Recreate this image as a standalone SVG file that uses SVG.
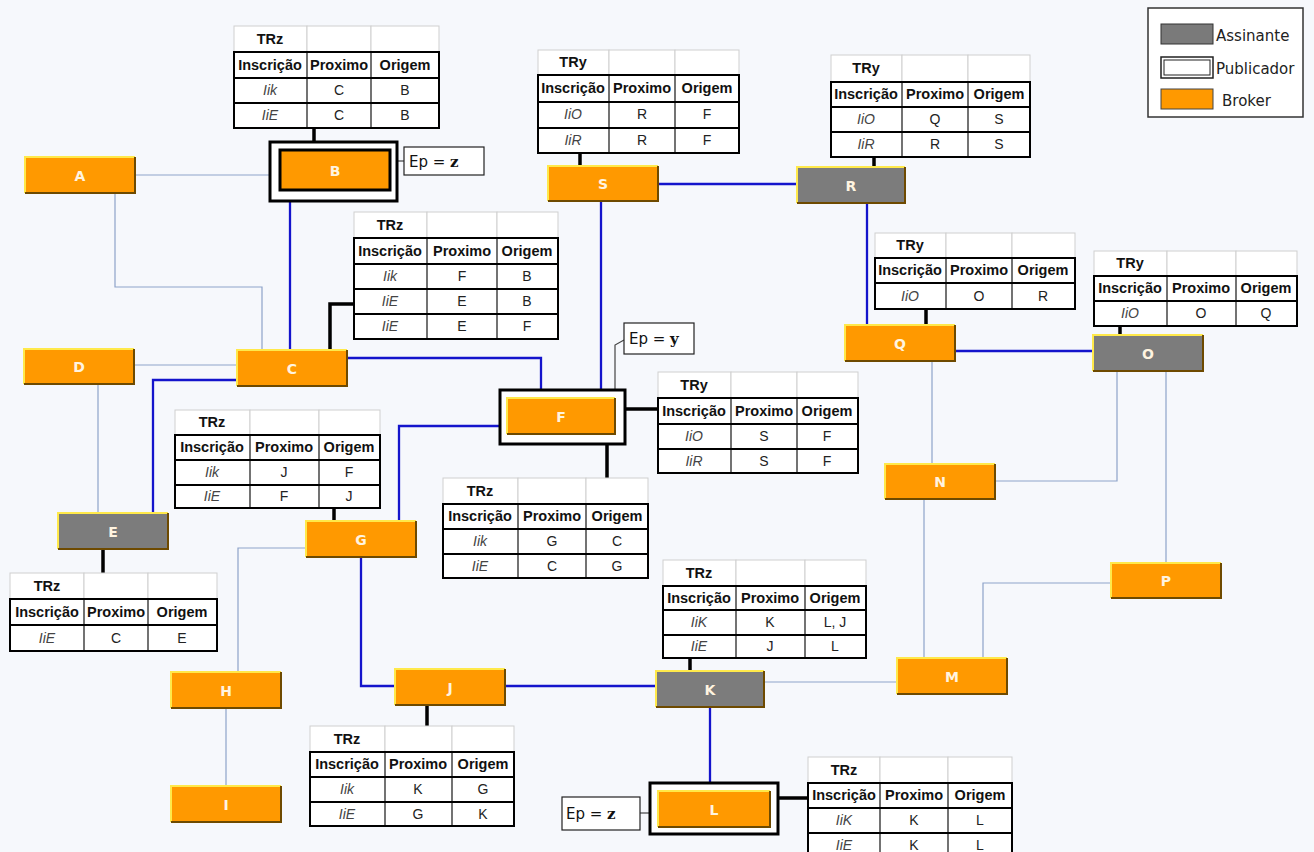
<svg xmlns="http://www.w3.org/2000/svg" width="1314" height="852" viewBox="0 0 1314 852">
<style>
.bg{fill:#f6f8fc}
.blue{fill:none;stroke:#1414cc;stroke-width:2.3}
.lite{fill:none;stroke:#8ea3c9;stroke-width:1.2}
.blk{fill:none;stroke:#000;stroke-width:3.5}
.ep{fill:none;stroke:#444;stroke-width:1.2}
.nb{fill:#ff9900}
.ng{fill:#7c7c7c}
.hi{fill:none;stroke:#ffe94a;stroke-width:2}
.sh{fill:none;stroke:#6e4a00;stroke-width:2}
.nl{font-family:"DejaVu Sans",sans-serif;font-weight:bold;font-size:14px;fill:#fff4e0;text-anchor:middle}
.pub{fill:#fff;stroke:#000;stroke-width:3}
.tt{fill:#fff;stroke:#cfcfcf;stroke-width:1}
.tb{fill:#fff;stroke:#000;stroke-width:2}
.hl{stroke:#000;stroke-width:1.8;fill:none}
.vl{stroke:#000;stroke-width:1.1;fill:none}
text.th{font-family:"Liberation Sans",Arial,sans-serif;font-weight:bold;font-size:14.5px;fill:#111;text-anchor:middle}
text.td{font-family:"Liberation Sans",Arial,sans-serif;font-size:14px;fill:#222;text-anchor:middle}
text.ti{font-family:"Liberation Sans",Arial,sans-serif;font-style:italic;font-size:14px;fill:#444;text-anchor:middle}
.epb{fill:#fff;stroke:#222;stroke-width:1.2}
text.ept{font-family:"DejaVu Sans",sans-serif;font-size:15px;fill:#111}
tspan.v{font-family:"DejaVu Serif","Liberation Serif",serif;font-weight:bold}
.lg{font-family:"DejaVu Sans",sans-serif;font-size:15px;fill:#222}
</style>
<rect class="bg" x="0" y="0" width="1314" height="852"/>

<g id="connectors">
  <path class="blue" d="M290 201V350"/>
  <path class="blue" d="M347 358H541V390"/>
  <path class="blue" d="M237 380H153V513"/>
  <path class="blue" d="M601 201V390"/>
  <path class="blue" d="M658 184H797"/>
  <path class="blue" d="M867 203V325"/>
  <path class="blue" d="M955 351H1093"/>
  <path class="blue" d="M500 426H399V521"/>
  <path class="blue" d="M361 557V686H395"/>
  <path class="blue" d="M505 686H656"/>
  <path class="blue" d="M710 707V783"/>
  <path class="lite" d="M135 175H270"/>
  <path class="lite" d="M115 193V287H262V350"/>
  <path class="lite" d="M134 365H237"/>
  <path class="lite" d="M98 384V513"/>
  <path class="lite" d="M306 548H238V672"/>
  <path class="lite" d="M226 708V786"/>
  <path class="lite" d="M764 682H897"/>
  <path class="lite" d="M932 361V464"/>
  <path class="lite" d="M1117 371V481H995"/>
  <path class="lite" d="M1166 371V563"/>
  <path class="lite" d="M924 499V658"/>
  <path class="lite" d="M1111 583H983V658"/>
  <path class="ep" d="M397 161H404"/>
  <path class="ep" d="M615 390V345L624 340"/>
  <path class="ep" d="M640 813H650"/>
  <path class="blk" d="M314 128V142"/>
  <path class="blk" d="M580 153V166"/>
  <path class="blk" d="M874 157V167"/>
  <path class="blk" d="M354 304H330V350"/>
  <path class="blk" d="M334 508V521"/>
  <path class="blk" d="M103 549V573"/>
  <path class="blk" d="M607 444V478"/>
  <path class="blk" d="M625 409H658"/>
  <path class="blk" d="M926 309V325"/>
  <path class="blk" d="M1120 326V335"/>
  <path class="blk" d="M690 658V671"/>
  <path class="blk" d="M427 705V726"/>
  <path class="blk" d="M778 798H808"/>
</g>

<g id="legend">
  <rect x="1148" y="8" width="155" height="109" fill="#fff" stroke="#333" stroke-width="1.5"/>
  <rect x="1161" y="24" width="52" height="20" fill="#7a7a7a" stroke="#333" stroke-width="1"/>
  <text class="lg" x="1216" y="41">Assinante</text>
  <rect x="1161" y="57" width="52" height="21" fill="#fff" stroke="#222" stroke-width="1.5"/>
  <rect x="1164" y="60" width="46" height="15" fill="#fff" stroke="#222" stroke-width="1"/>
  <text class="lg" x="1216" y="74">Publicador</text>
  <rect x="1161" y="89" width="52" height="20" fill="#ff9900" stroke="#444" stroke-width="1"/>
  <text class="lg" x="1222" y="106">Broker</text>
</g>

<g id="node-A"><rect class="nb" x="25" y="157" width="110" height="36"/><path class="hi" d="M25 193V157H135"/><path class="sh" d="M135 157V193H25"/><text class="nl" x="80" y="181">A</text></g>
<g id="node-B"><rect class="pub" x="270" y="142" width="127" height="59"/><rect class="nb" x="280" y="150" width="110" height="40" stroke="#000" stroke-width="3"/><text class="nl" x="335" y="176">B</text></g>
<g id="ep-B"><rect class="epb" x="404" y="147" width="80" height="28"/><text class="ept" x="409" y="167">Ep = <tspan class="v">z</tspan></text></g>
<g id="node-S"><rect class="nb" x="548" y="166" width="110" height="35"/><path class="hi" d="M548 201V166H658"/><path class="sh" d="M658 166V201H548"/><text class="nl" x="603" y="189">S</text></g>
<g id="node-R"><rect class="ng" x="797" y="167" width="108" height="36"/><path class="hi" d="M797 203V167H905"/><path class="sh" d="M905 167V203H797"/><text class="nl" x="851" y="191">R</text></g>
<g id="node-C"><rect class="nb" x="237" y="350" width="110" height="36"/><path class="hi" d="M237 386V350H347"/><path class="sh" d="M347 350V386H237"/><text class="nl" x="292" y="374">C</text></g>
<g id="node-D"><rect class="nb" x="24" y="349" width="110" height="35"/><path class="hi" d="M24 384V349H134"/><path class="sh" d="M134 349V384H24"/><text class="nl" x="79" y="372">D</text></g>
<g id="node-E"><rect class="ng" x="58" y="513" width="110" height="36"/><path class="hi" d="M58 549V513H168"/><path class="sh" d="M168 513V549H58"/><text class="nl" x="113" y="537">E</text></g>
<g id="node-F"><rect class="pub" x="500" y="390" width="125" height="54"/><rect class="nb" x="507" y="398" width="108" height="36"/><path class="hi" d="M507 434V398H615"/><path class="sh" d="M615 398V434H507"/><text class="nl" x="561" y="422">F</text></g>
<g id="ep-F"><rect class="epb" x="624" y="323" width="70" height="31"/><text class="ept" x="629" y="344">Ep = <tspan class="v">y</tspan></text></g>
<g id="node-G"><rect class="nb" x="306" y="521" width="110" height="36"/><path class="hi" d="M306 557V521H416"/><path class="sh" d="M416 521V557H306"/><text class="nl" x="361" y="545">G</text></g>
<g id="node-H"><rect class="nb" x="171" y="672" width="110" height="36"/><path class="hi" d="M171 708V672H281"/><path class="sh" d="M281 672V708H171"/><text class="nl" x="226" y="696">H</text></g>
<g id="node-I"><rect class="nb" x="171" y="786" width="110" height="36"/><path class="hi" d="M171 822V786H281"/><path class="sh" d="M281 786V822H171"/><text class="nl" x="226" y="810">I</text></g>
<g id="node-J"><rect class="nb" x="395" y="669" width="110" height="36"/><path class="hi" d="M395 705V669H505"/><path class="sh" d="M505 669V705H395"/><text class="nl" x="450" y="693">J</text></g>
<g id="node-K"><rect class="ng" x="656" y="671" width="108" height="36"/><path class="hi" d="M656 707V671H764"/><path class="sh" d="M764 671V707H656"/><text class="nl" x="710" y="695">K</text></g>
<g id="node-L"><rect class="pub" x="650" y="783" width="128" height="51"/><rect class="nb" x="658" y="791" width="112" height="36"/><path class="hi" d="M658 827V791H770"/><path class="sh" d="M770 791V827H658"/><text class="nl" x="714" y="815">L</text></g>
<g id="ep-L"><rect class="epb" x="562" y="797" width="78" height="33"/><text class="ept" x="566" y="819">Ep = <tspan class="v">z</tspan></text></g>
<g id="node-M"><rect class="nb" x="897" y="658" width="110" height="36"/><path class="hi" d="M897 694V658H1007"/><path class="sh" d="M1007 658V694H897"/><text class="nl" x="952" y="682">M</text></g>
<g id="node-N"><rect class="nb" x="885" y="464" width="110" height="35"/><path class="hi" d="M885 499V464H995"/><path class="sh" d="M995 464V499H885"/><text class="nl" x="940" y="487">N</text></g>
<g id="node-O"><rect class="ng" x="1093" y="335" width="110" height="36"/><path class="hi" d="M1093 371V335H1203"/><path class="sh" d="M1203 335V371H1093"/><text class="nl" x="1148" y="359">O</text></g>
<g id="node-P"><rect class="nb" x="1111" y="563" width="110" height="35"/><path class="hi" d="M1111 598V563H1221"/><path class="sh" d="M1221 563V598H1111"/><text class="nl" x="1166" y="586">P</text></g>
<g id="node-Q"><rect class="nb" x="845" y="325" width="110" height="36"/><path class="hi" d="M845 361V325H955"/><path class="sh" d="M955 325V361H845"/><text class="nl" x="900" y="349">Q</text></g>

<g id="table-B">
  <rect class="tt" x="234" y="26" width="73" height="26"/><rect class="tt" x="307" y="26" width="64" height="26"/><rect class="tt" x="371" y="26" width="68" height="26"/>
  <rect class="tb" x="234" y="52" width="205" height="76"/>
  <path class="hl" d="M234 78H439M234 103H439"/><path class="vl" d="M307 52V128M371 52V128"/>
  <text class="th" x="270" y="44">TRz</text>
  <text class="th" x="270" y="70">Inscrição</text><text class="th" x="339" y="70">Proximo</text><text class="th" x="405" y="70">Origem</text>
  <text class="ti" x="270" y="95">Iik</text><text class="td" x="339" y="95">C</text><text class="td" x="405" y="95">B</text>
  <text class="ti" x="270" y="120">IiE</text><text class="td" x="339" y="120">C</text><text class="td" x="405" y="120">B</text>
</g>
<g id="table-S">
  <rect class="tt" x="538" y="50" width="71" height="25"/><rect class="tt" x="609" y="50" width="66" height="25"/><rect class="tt" x="675" y="50" width="64" height="25"/>
  <rect class="tb" x="538" y="75" width="201" height="78"/>
  <path class="hl" d="M538 102H739M538 128H739"/><path class="vl" d="M609 75V153M675 75V153"/>
  <text class="th" x="573" y="67">TRy</text>
  <text class="th" x="573" y="93">Inscrição</text><text class="th" x="642" y="93">Proximo</text><text class="th" x="707" y="93">Origem</text>
  <text class="ti" x="573" y="119">IiO</text><text class="td" x="642" y="119">R</text><text class="td" x="707" y="119">F</text>
  <text class="ti" x="573" y="145">IiR</text><text class="td" x="642" y="145">R</text><text class="td" x="707" y="145">F</text>
</g>
<g id="table-R">
  <rect class="tt" x="831" y="55" width="71" height="27"/><rect class="tt" x="902" y="55" width="66" height="27"/><rect class="tt" x="968" y="55" width="62" height="27"/>
  <rect class="tb" x="831" y="82" width="199" height="75"/>
  <path class="hl" d="M831 107H1030M831 132H1030"/><path class="vl" d="M902 82V157M968 82V157"/>
  <text class="th" x="866" y="73">TRy</text>
  <text class="th" x="866" y="99">Inscrição</text><text class="th" x="935" y="99">Proximo</text><text class="th" x="999" y="99">Origem</text>
  <text class="ti" x="866" y="124">IiO</text><text class="td" x="935" y="124">Q</text><text class="td" x="999" y="124">S</text>
  <text class="ti" x="866" y="149">IiR</text><text class="td" x="935" y="149">R</text><text class="td" x="999" y="149">S</text>
</g>
<g id="table-C">
  <rect class="tt" x="354" y="212" width="73" height="26"/><rect class="tt" x="427" y="212" width="70" height="26"/><rect class="tt" x="497" y="212" width="61" height="26"/>
  <rect class="tb" x="354" y="238" width="204" height="101"/>
  <path class="hl" d="M354 264H558M354 289H558M354 314H558"/><path class="vl" d="M427 238V339M497 238V339"/>
  <text class="th" x="390" y="230">TRz</text>
  <text class="th" x="390" y="256">Inscrição</text><text class="th" x="462" y="256">Proximo</text><text class="th" x="527" y="256">Origem</text>
  <text class="ti" x="390" y="281">Iik</text><text class="td" x="462" y="281">F</text><text class="td" x="527" y="281">B</text>
  <text class="ti" x="390" y="306">IiE</text><text class="td" x="462" y="306">E</text><text class="td" x="527" y="306">B</text>
  <text class="ti" x="390" y="331">IiE</text><text class="td" x="462" y="331">E</text><text class="td" x="527" y="331">F</text>
</g>
<g id="table-G">
  <rect class="tt" x="175" y="410" width="75" height="25"/><rect class="tt" x="250" y="410" width="69" height="25"/><rect class="tt" x="319" y="410" width="61" height="25"/>
  <rect class="tb" x="175" y="435" width="205" height="73"/>
  <path class="hl" d="M175 460H380M175 485H380"/><path class="vl" d="M250 435V508M319 435V508"/>
  <text class="th" x="212" y="427">TRz</text>
  <text class="th" x="212" y="452">Inscrição</text><text class="th" x="284" y="452">Proximo</text><text class="th" x="349" y="452">Origem</text>
  <text class="ti" x="212" y="477">Iik</text><text class="td" x="284" y="477">J</text><text class="td" x="349" y="477">F</text>
  <text class="ti" x="212" y="501">IiE</text><text class="td" x="284" y="501">F</text><text class="td" x="349" y="501">J</text>
</g>
<g id="table-E">
  <rect class="tt" x="10" y="573" width="74" height="26"/><rect class="tt" x="84" y="573" width="64" height="26"/><rect class="tt" x="148" y="573" width="69" height="26"/>
  <rect class="tb" x="10" y="599" width="207" height="52"/>
  <path class="hl" d="M10 625H217"/><path class="vl" d="M84 599V651M148 599V651"/>
  <text class="th" x="47" y="591">TRz</text>
  <text class="th" x="47" y="617">Inscrição</text><text class="th" x="116" y="617">Proximo</text><text class="th" x="182" y="617">Origem</text>
  <text class="ti" x="47" y="643">IiE</text><text class="td" x="116" y="643">C</text><text class="td" x="182" y="643">E</text>
</g>
<g id="table-F1">
  <rect class="tt" x="443" y="478" width="75" height="26"/><rect class="tt" x="518" y="478" width="68" height="26"/><rect class="tt" x="586" y="478" width="62" height="26"/>
  <rect class="tb" x="443" y="504" width="205" height="74"/>
  <path class="hl" d="M443 529H648M443 554H648"/><path class="vl" d="M518 504V578M586 504V578"/>
  <text class="th" x="480" y="496">TRz</text>
  <text class="th" x="480" y="521">Inscrição</text><text class="th" x="552" y="521">Proximo</text><text class="th" x="617" y="521">Origem</text>
  <text class="ti" x="480" y="546">Iik</text><text class="td" x="552" y="546">G</text><text class="td" x="617" y="546">C</text>
  <text class="ti" x="480" y="571">IiE</text><text class="td" x="552" y="571">C</text><text class="td" x="617" y="571">G</text>
</g>
<g id="table-F2">
  <rect class="tt" x="658" y="372" width="73" height="26"/><rect class="tt" x="731" y="372" width="66" height="26"/><rect class="tt" x="797" y="372" width="61" height="26"/>
  <rect class="tb" x="658" y="398" width="200" height="75"/>
  <path class="hl" d="M658 424H858M658 449H858"/><path class="vl" d="M731 398V473M797 398V473"/>
  <text class="th" x="694" y="390">TRy</text>
  <text class="th" x="694" y="416">Inscrição</text><text class="th" x="764" y="416">Proximo</text><text class="th" x="827" y="416">Origem</text>
  <text class="ti" x="694" y="441">IiO</text><text class="td" x="764" y="441">S</text><text class="td" x="827" y="441">F</text>
  <text class="ti" x="694" y="466">IiR</text><text class="td" x="764" y="466">S</text><text class="td" x="827" y="466">F</text>
</g>
<g id="table-Q">
  <rect class="tt" x="875" y="233" width="71" height="25"/><rect class="tt" x="946" y="233" width="66" height="25"/><rect class="tt" x="1012" y="233" width="63" height="25"/>
  <rect class="tb" x="875" y="258" width="200" height="51"/>
  <path class="hl" d="M875 283H1075"/><path class="vl" d="M946 258V309M1012 258V309"/>
  <text class="th" x="910" y="250">TRy</text>
  <text class="th" x="910" y="275">Inscrição</text><text class="th" x="979" y="275">Proximo</text><text class="th" x="1043" y="275">Origem</text>
  <text class="ti" x="910" y="301">IiO</text><text class="td" x="979" y="301">O</text><text class="td" x="1043" y="301">R</text>
</g>
<g id="table-O">
  <rect class="tt" x="1094" y="251" width="73" height="25"/><rect class="tt" x="1167" y="251" width="69" height="25"/><rect class="tt" x="1236" y="251" width="61" height="25"/>
  <rect class="tb" x="1094" y="276" width="203" height="50"/>
  <path class="hl" d="M1094 301H1297"/><path class="vl" d="M1167 276V326M1236 276V326"/>
  <text class="th" x="1130" y="268">TRy</text>
  <text class="th" x="1130" y="293">Inscrição</text><text class="th" x="1201" y="293">Proximo</text><text class="th" x="1266" y="293">Origem</text>
  <text class="ti" x="1130" y="318">IiO</text><text class="td" x="1201" y="318">O</text><text class="td" x="1266" y="318">Q</text>
</g>
<g id="table-K">
  <rect class="tt" x="663" y="560" width="73" height="26"/><rect class="tt" x="736" y="560" width="69" height="26"/><rect class="tt" x="805" y="560" width="61" height="26"/>
  <rect class="tb" x="663" y="586" width="203" height="72"/>
  <path class="hl" d="M663 610H866M663 635H866"/><path class="vl" d="M736 586V658M805 586V658"/>
  <text class="th" x="699" y="578">TRz</text>
  <text class="th" x="699" y="603">Inscrição</text><text class="th" x="770" y="603">Proximo</text><text class="th" x="835" y="603">Origem</text>
  <text class="ti" x="699" y="627">IiK</text><text class="td" x="770" y="627">K</text><text class="td" x="835" y="627">L, J</text>
  <text class="ti" x="699" y="651">IiE</text><text class="td" x="770" y="651">J</text><text class="td" x="835" y="651">L</text>
</g>
<g id="table-J">
  <rect class="tt" x="310" y="726" width="75" height="26"/><rect class="tt" x="385" y="726" width="67" height="26"/><rect class="tt" x="452" y="726" width="62" height="26"/>
  <rect class="tb" x="310" y="752" width="204" height="74"/>
  <path class="hl" d="M310 777H514M310 802H514"/><path class="vl" d="M385 752V826M452 752V826"/>
  <text class="th" x="347" y="744">TRz</text>
  <text class="th" x="347" y="769">Inscrição</text><text class="th" x="418" y="769">Proximo</text><text class="th" x="483" y="769">Origem</text>
  <text class="ti" x="347" y="794">Iik</text><text class="td" x="418" y="794">K</text><text class="td" x="483" y="794">G</text>
  <text class="ti" x="347" y="819">IiE</text><text class="td" x="418" y="819">G</text><text class="td" x="483" y="819">K</text>
</g>
<g id="table-L">
  <rect class="tt" x="808" y="757" width="72" height="26"/><rect class="tt" x="880" y="757" width="68" height="26"/><rect class="tt" x="948" y="757" width="64" height="26"/>
  <rect class="tb" x="808" y="783" width="204" height="76"/>
  <path class="hl" d="M808 808H1012M808 833H1012"/><path class="vl" d="M880 783V859M948 783V859"/>
  <text class="th" x="844" y="775">TRz</text>
  <text class="th" x="844" y="800">Inscrição</text><text class="th" x="914" y="800">Proximo</text><text class="th" x="980" y="800">Origem</text>
  <text class="ti" x="844" y="825">IiK</text><text class="td" x="914" y="825">K</text><text class="td" x="980" y="825">L</text>
  <text class="ti" x="844" y="850">IiE</text><text class="td" x="914" y="850">K</text><text class="td" x="980" y="850">L</text>
</g>
</svg>
